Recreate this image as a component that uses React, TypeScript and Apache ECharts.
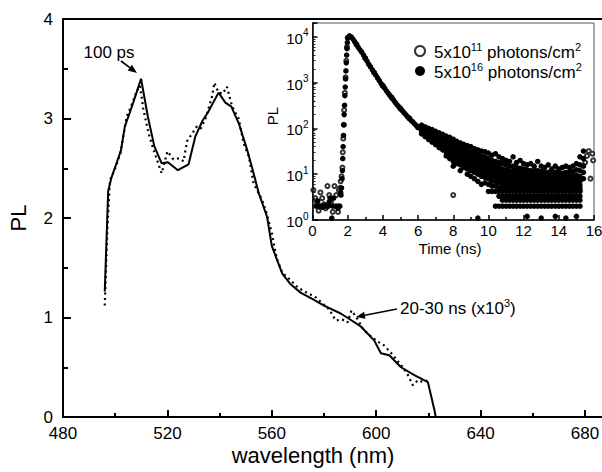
import React, { useEffect, useRef } from 'react';
import * as echarts from 'echarts';

// ---------- main spectrum data ----------
const wavelengthPs = [496.0, 497.3, 498.5, 500.5, 502.2, 503.7, 505.6, 506.9, 509.9, 512.5, 515.0, 517.8, 520.2, 524.0, 528.1, 530.7, 533.5, 535.5, 539.6, 542.2, 544.5, 547.5, 550.5, 552.5, 555.0, 558.2, 560.0, 564.0, 567.0, 571.0, 576.0, 580.0, 586.4, 590.0, 594.1, 599.2, 601.8, 605.0, 609.5, 614.6, 619.8, 622.3, 622.8];
const plPs = [1.26, 2.27, 2.40, 2.55, 2.68, 2.92, 3.06, 3.16, 3.40, 3.02, 2.72, 2.55, 2.56, 2.48, 2.54, 2.82, 2.98, 3.06, 3.26, 3.16, 3.12, 2.94, 2.69, 2.50, 2.25, 2.01, 1.72, 1.44, 1.34, 1.25, 1.18, 1.12, 1.04, 0.98, 0.91, 0.77, 0.64, 0.62, 0.50, 0.42, 0.35, 0.07, 0.0];

const wavelengthNs = [496.0, 497.0, 498.0, 500.0, 502.0, 504.4, 506.5, 508.2, 509.5, 510.8, 512.7, 514.5, 515.9, 517.8, 519.3, 520.0, 522.3, 524.5, 526.2, 527.5, 529.5, 531.3, 532.8, 534.5, 537.1, 538.0, 539.6, 541.2, 542.8, 544.8, 547.3, 549.2, 551.2, 553.0, 556.3, 558.0, 560.0, 561.8, 564.0, 567.0, 570.0, 574.0, 576.5, 579.5, 582.0, 584.5, 587.0, 589.0, 590.5, 592.5, 595.0, 597.5, 600.5, 603.0, 605.5, 608.0, 610.5, 612.0, 614.0, 616.0, 618.0, 620.0];
const plNs = [1.12, 1.9, 2.38, 2.5, 2.65, 3.02, 3.15, 3.27, 3.33, 3.09, 2.86, 2.7, 2.59, 2.45, 2.6, 2.67, 2.59, 2.6, 2.57, 2.77, 2.85, 2.92, 2.9, 2.99, 3.22, 3.36, 3.26, 3.25, 3.32, 3.12, 3.0, 2.75, 2.62, 2.35, 2.18, 2.05, 1.85, 1.6, 1.45, 1.38, 1.3, 1.24, 1.21, 1.14, 1.08, 0.97, 0.98, 0.95, 1.07, 1.0, 0.88, 0.82, 0.76, 0.72, 0.65, 0.57, 0.49, 0.43, 0.32, 0.37, 0.35, 0.37];

const wavelengthTicks = [480, 520, 560, 600, 640, 680];

// ---------- inset (time-resolved) data ----------
const LOW = 'low';
const HIGH = 'high';

const preT = [0.2, 0.3, 0.35, 0.4, 0.5, 0.55, 0.6, 0.7, 0.75, 0.8, 0.9, 0.95, 1.0, 1.1, 1.15, 1.2, 1.3, 1.4, 1.45, 1.5, 1.55, 1.6, 1.62, 1.65];
const prePL = [2, 2.6, 2, 2, 2, 1.9, 2, 2, 2.1, 2, 2, 2.5, 3, 1.1, 2, 3, 2, 2, 1.8, 2, 2, 4, 3.5, 5];

const riseT = [1.68, 1.7, 1.72, 1.74, 1.76, 1.78, 1.8, 1.82, 1.84, 1.86, 1.88, 1.9, 1.92, 1.94, 1.96, 1.98];
const risePL = [8, 12, 22, 40, 70, 120, 200, 320, 520, 800, 1200, 1800, 2700, 4000, 5500, 7500];

const decayT = [2.0, 2.1, 2.2, 2.3, 2.4, 2.5, 2.6, 2.7, 2.8, 2.9, 3.0, 3.1, 3.2, 3.3, 3.4, 3.5, 3.6, 3.7, 3.8, 3.9, 4.0, 4.1, 4.2, 4.3, 4.4, 4.5, 4.6, 4.7, 4.8, 4.9, 5.0, 5.1, 5.2, 5.3, 5.4, 5.5, 5.6, 5.7, 5.8, 5.9, 6.0];
const decayPL = [9500, 10500, 10000, 8900, 7800, 6800, 5900, 5200, 4600, 4000, 3400, 2950, 2500, 2200, 1900, 1660, 1450, 1260, 1100, 950, 850, 760, 660, 590, 525, 470, 420, 370, 330, 300, 270, 245, 220, 200, 180, 166, 150, 138, 126, 115, 105];

const tailT = [6.2, 6.4, 6.6, 6.8, 7.0, 7.2, 7.4, 7.6, 7.8, 8.0, 8.2, 8.4, 8.6, 8.8, 9.0, 9.2, 9.4, 9.6, 9.8, 10.0, 10.2, 10.4, 10.6, 10.8, 11.0, 11.2, 11.4, 11.6, 11.8, 12.0, 12.2, 12.4, 12.6, 12.8, 13.0, 13.2, 13.4, 13.6, 13.8, 14.0, 14.2, 14.4, 14.6, 14.8, 15.0, 15.2, 15.4];
const tailPL = [
  [118, 104, 96, 90, 84, 76],
  [108, 95, 86, 80, 74, 66],
  [100, 86, 78, 71, 65, 57],
  [94, 78, 70, 64, 58, 50],
  [86, 72, 63, 57, 51, 44],
  [80, 66, 57, 51, 45, 38],
  [74, 60, 52, 46, 40, 34],
  [68, 55, 47, 41, 36, 30, 25],
  [64, 50, 43, 37, 32, 27, 22],
  [58, 48, 40, 34, 29, 24, 19, 15],
  [52, 42, 36, 31, 26, 22, 17],
  [48, 39, 33, 28, 24, 20, 16, 12],
  [45, 36, 30, 26, 22, 18, 14],
  [42, 33, 28, 24, 20, 16, 13, 10],
  [40, 31, 26, 22, 18, 15, 12, 9],
  [36, 29, 24, 20, 17, 14, 11, 8],
  [34, 27, 22, 18, 15, 12, 10, 7, 1.1],
  [32, 25, 20, 17, 14, 11, 9, 6],
  [31, 24, 19, 16, 13, 10.5, 8.5, 6.5],
  [29, 22, 18, 15, 12, 10, 8, 6, 4.2],
  [26, 20, 16, 13.5, 11, 9, 7, 5.5, 4.2],
  [28, 19, 15, 12.5, 10, 8.5, 7, 5.5, 4.2, 2],
  [24, 18, 14, 11.5, 9.5, 8, 6.5, 5, 4.2, 3.3, 2],
  [22, 17, 13, 11, 9, 7.5, 6, 5, 4.2, 3.3, 2.7, 2],
  [20, 16, 12.5, 10.5, 8.5, 7, 6, 5, 4.2, 3.3, 2.7, 2],
  [19, 15, 12, 10, 8, 6.8, 5.7, 4.8, 4.2, 3.3, 2.7, 2],
  [24, 15, 12, 9.5, 8, 6.5, 5.5, 4.8, 4.2, 3.3, 2.7, 2],
  [18, 14, 11, 9, 7.5, 6.3, 5.4, 4.7, 4.2, 3.3, 2.7, 2],
  [20, 13.5, 11, 9, 7.5, 6.2, 5.3, 4.7, 4.2, 3.3, 2.7, 2],
  [17, 13, 10.5, 8.7, 7.2, 6, 5.2, 4.6, 4.2, 3.3, 2.7, 2],
  [16, 12.5, 10, 8.5, 7, 6, 5.2, 4.6, 4.2, 3.3, 2.7, 2, 1.2],
  [17, 12, 10, 8.2, 7, 5.8, 5.1, 4.6, 4.2, 3.3, 2.7, 2],
  [15, 12, 9.5, 8, 6.8, 5.8, 5, 4.5, 4.2, 3.3, 2.7, 2],
  [19, 12, 9.5, 8, 6.7, 5.7, 5, 4.5, 4.2, 3.3, 2.7, 2],
  [15, 11.5, 9.3, 7.8, 6.6, 5.6, 5, 4.5, 4.2, 3.3, 2.7, 2, 1.1],
  [14, 11, 9, 7.6, 6.5, 5.6, 5, 4.5, 4.2, 3.3, 2.7, 2],
  [16, 11, 9, 7.5, 6.4, 5.5, 4.9, 4.5, 4.2, 3.3, 2.7, 2],
  [13, 10.5, 8.8, 7.4, 6.3, 5.5, 4.9, 4.5, 4.2, 3.3, 2.7, 2],
  [15, 11, 8.8, 7.4, 6.3, 5.5, 4.9, 4.5, 4.2, 3.3, 2.7, 2, 1.2],
  [13, 10.5, 8.6, 7.3, 6.2, 5.4, 4.9, 4.5, 4.2, 3.3, 2.7, 2],
  [14, 10.5, 8.6, 7.3, 6.2, 5.4, 4.9, 4.5, 4.2, 3.3, 2.7, 2],
  [15, 11, 8.8, 7.4, 6.3, 5.5, 4.9, 4.5, 4.2, 3.3, 2.7, 2, 1.1],
  [14, 11, 8.8, 7.4, 6.3, 5.5, 4.9, 4.5, 4.2, 3.3, 2.7, 2],
  [15, 11.5, 9, 7.6, 6.4, 5.5, 5, 4.5, 4.2, 3.3, 2.7, 2],
  [17, 12.5, 9.5, 8, 6.6, 5.6, 5, 4.5, 4.2, 3.3, 2.7, 2, 1.2],
  [24, 16, 12, 9, 7, 5.8, 5, 4.5, 4.2, 3.3, 2.7, 2],
  [32, 22, 15, 11, 8],
];

const openT = [0.05, 0.15, 0.25, 0.35, 0.45, 0.55, 0.65, 0.75, 0.85, 0.95, 1.05, 1.15, 1.25, 1.35, 1.45, 1.5, 1.55, 1.6, 1.65, 1.7, 1.72, 1.75, 1.78, 1.8, 1.84, 1.88, 1.92, 1.96, 2.0, 2.5, 3.0, 3.5, 4.0, 4.5, 5.0, 5.5, 6.0, 7.0, 7.95, 8.0, 9.0, 10.0, 11.0, 12.0, 13.0, 14.0, 15.0, 15.5, 15.6, 15.7, 15.8, 15.9, 15.95];
const openPL = [4.5, 3, 2.5, 1.6, 4, 3, 2.2, 1.8, 5.5, 3.5, 2.4, 1.5, 5.5, 3.5, 1.5, 4.5, 5, 7, 9, 14, 30, 60, 120, 250, 600, 1300, 3000, 6000, 9500, 6800, 3400, 1660, 850, 470, 270, 166, 105, 56, 47, 3.5, 21, 13, 8, 6, 5, 5, 6, 18, 25, 32, 8, 28, 20];

const FONT = '"Liberation Sans", Arial, Helvetica, sans-serif';
const INK = '#000';

function zip(xs: number[], ys: number[]) {
  return xs.map((x, i) => [x, ys[i]]);
}

function arrow(x1: number, y1: number, x2: number, y2: number) {
  const a = Math.atan2(y2 - y1, x2 - x1);
  const L = 9, W = 3.5;
  const bx = x2 - L * Math.cos(a), by = y2 - L * Math.sin(a);
  const px = -Math.sin(a) * W, py = Math.cos(a) * W;
  return [
    { type: 'line', z: 30, shape: { x1, y1, x2: bx, y2: by }, style: { stroke: INK, lineWidth: 1.6 } },
    { type: 'polygon', z: 30, shape: { points: [[x2, y2], [bx + px, by + py], [bx - px, by - py]] }, style: { fill: INK } },
  ];
}

const supRich = (size: number, sup: number, lh: number) => ({
  b: { fontSize: size, fontFamily: FONT, color: INK, fill: INK, verticalAlign: 'bottom', lineHeight: lh },
  s: { fontSize: sup, fontFamily: FONT, color: INK, fill: INK, verticalAlign: 'top', lineHeight: lh },
});

const axisLineStyle = (w: number) => ({ show: true, lineStyle: { color: INK, width: w, opacity: 1 } });

export default function App() {
  const ref = useRef<HTMLDivElement>(null);
  useEffect(() => {
    const chart = echarts.init(ref.current!, null, { renderer: 'svg' });

    const filled: number[][] = [
      ...zip(preT, prePL),
      ...zip(riseT, risePL),
      ...zip(decayT, decayPL),
    ];
    tailT.forEach((t, i) => tailPL[i].forEach((v) => filled.push([t, v])));

    const option: any = {
      animation: false,
      backgroundColor: '#fff',
      textStyle: { fontFamily: FONT, color: INK },
      grid: [
        { left: 63, top: 19, right: 0, bottom: 55, show: false, containLabel: false, outerBoundsMode: 'none' },
        { left: 312.5, top: 23, width: 281.5, height: 197, show: true, backgroundColor: '#fff', borderColor: '#555', borderWidth: 1, containLabel: false, outerBoundsMode: 'none', z: 3 },
      ],
      xAxis: [
        {
          gridIndex: 0, type: 'value', min: 480, max: 686.5, interval: 40, position: 'bottom',
          axisLine: axisLineStyle(2),
          axisTick: { show: true, inside: true, length: 7, customValues: wavelengthTicks, lineStyle: { color: INK, width: 2 } },
          minorTick: { show: true, splitNumber: 2, length: 4, lineStyle: { color: INK, width: 2 } },
          splitLine: { show: false },
          axisLabel: { show: true, color: INK, fontSize: 17, fontFamily: FONT, margin: 8, customValues: wavelengthTicks, formatter: (v: number) => (v % 40 === 0 ? String(v) : '') },
          z: 5,
        },
        {
          gridIndex: 0, type: 'value', min: 480, max: 686.5, position: 'top',
          axisLine: axisLineStyle(2),
          axisTick: { show: false }, minorTick: { show: false }, axisLabel: { show: false }, splitLine: { show: false },
          z: 5,
        },
        {
          gridIndex: 1, type: 'value', min: 0, max: 16, interval: 2,
          axisLine: axisLineStyle(1.5),
          axisTick: { show: true, inside: true, length: 5, lineStyle: { color: INK, width: 1.5 } },
          minorTick: { show: true, splitNumber: 2, length: 3, lineStyle: { color: INK, width: 1.5 } },
          splitLine: { show: false },
          axisLabel: { color: INK, fontSize: 15, fontFamily: FONT, margin: 3, showMaxLabel: true },
          z: 6,
        },
      ],
      yAxis: [
        {
          gridIndex: 0, type: 'value', min: 0, max: 4, interval: 1,
          axisLine: axisLineStyle(2),
          axisTick: { show: true, inside: true, length: 8, lineStyle: { color: INK, width: 2 } },
          minorTick: { show: true, splitNumber: 2, length: 5, lineStyle: { color: INK, width: 2 } },
          splitLine: { show: false },
          axisLabel: { color: INK, fontSize: 17, fontFamily: FONT, margin: 10 },
          z: 5,
        },
        {
          gridIndex: 1, type: 'log', logBase: 10, min: 1, max: 20000,
          axisLine: axisLineStyle(1.5),
          axisTick: { show: true, inside: true, length: 5, lineStyle: { color: INK, width: 1.5 } },
          minorTick: { show: true, splitNumber: 9, length: 3, lineStyle: { color: '#222', width: 1 } },
          splitLine: { show: false },
          minorSplitLine: { show: false },
          axisLabel: {
            margin: 4,
            formatter: (v: number) => {
              const e = Math.round(Math.log10(v));
              return Math.abs(v - Math.pow(10, e)) < 1e-6 * v && e <= 4 ? `{b|10}{s|${e}}` : '';
            },
            rich: supRich(15, 10, 18),
          },
          z: 6,
        },
      ],
      legend: {
        left: 409, top: 36, orient: 'vertical', itemGap: 0, itemWidth: 18, itemHeight: 10,
        data: [{ name: LOW, icon: 'emptyCircle' }, { name: HIGH, icon: 'circle' }],
        formatter: (n: string) => (n === LOW ? '{b|5x10}{s|11}{b| photons/cm}{s|2}' : '{b|5x10}{s|16}{b| photons/cm}{s|2}'),
        textStyle: { fontSize: 17, fontFamily: FONT, color: INK, rich: supRich(17, 11, 20) },
        z: 10,
      },
      series: [
        {
          type: 'line', xAxisIndex: 0, yAxisIndex: 0, data: zip(wavelengthPs, plPs), showSymbol: false,
          lineStyle: { color: INK, width: 2 }, z: 2, silent: true,
        },
        {
          type: 'line', xAxisIndex: 0, yAxisIndex: 0, data: zip(wavelengthNs, plNs), showSymbol: false,
          lineStyle: { color: INK, width: 2.2, type: [2, 3.5] }, z: 2, silent: true,
        },
        {
          name: LOW, type: 'scatter', xAxisIndex: 2, yAxisIndex: 1, data: zip(openT, openPL),
          symbol: 'emptyCircle', symbolSize: 4, itemStyle: { color: '#333', borderWidth: 1, opacity: 1 }, z: 5, silent: true,
        },
        {
          name: HIGH, type: 'scatter', xAxisIndex: 2, yAxisIndex: 1, data: filled,
          symbol: 'circle', symbolSize: 5.5, itemStyle: { color: INK, opacity: 1 }, z: 6, silent: true,
        },
      ],
      graphic: [
        { type: 'text', x: 18, y: 218, rotation: Math.PI / 2, style: { text: 'PL', fontSize: 22, fontFamily: FONT, fill: INK, align: 'center', verticalAlign: 'middle', textAlign: 'center', textVerticalAlign: 'middle' } },
        { type: 'text', x: 313, y: 455, style: { text: 'wavelength (nm)', fontSize: 22, fontFamily: FONT, fill: INK, align: 'center', verticalAlign: 'middle', textAlign: 'center', textVerticalAlign: 'middle' } },
        { type: 'text', x: 272, y: 116, rotation: Math.PI / 2, z: 20, style: { text: 'PL', fontSize: 15, fontFamily: FONT, fill: INK, align: 'center', verticalAlign: 'middle', textAlign: 'center', textVerticalAlign: 'middle' } },
        { type: 'text', x: 450, y: 248, z: 20, style: { text: 'Time (ns)', fontSize: 15, fontFamily: FONT, fill: INK, align: 'center', verticalAlign: 'middle', textAlign: 'center', textVerticalAlign: 'middle' } },
        { type: 'text', x: 109, y: 52, style: { text: '100 ps', fontSize: 17, fontFamily: FONT, fill: INK, align: 'center', verticalAlign: 'middle', textAlign: 'center', textVerticalAlign: 'middle' } },
        { type: 'text', x: 400, y: 307, style: { text: '{b|20-30 ns (x10}{s|3}{b|)}', rich: supRich(17, 11, 20), fontSize: 17, fontFamily: FONT, fill: INK, align: 'left', verticalAlign: 'middle', textAlign: 'left', textVerticalAlign: 'middle' } },
        ...arrow(121, 61, 137, 73),
        ...arrow(397, 309, 356, 317),
      ],
    };
    chart.setOption(option);
    return () => chart.dispose();
  }, []);
  return <div ref={ref} style={{ position: 'absolute', left: 0, top: 0, width: 602, height: 472, background: '#fff' }} />;
}
